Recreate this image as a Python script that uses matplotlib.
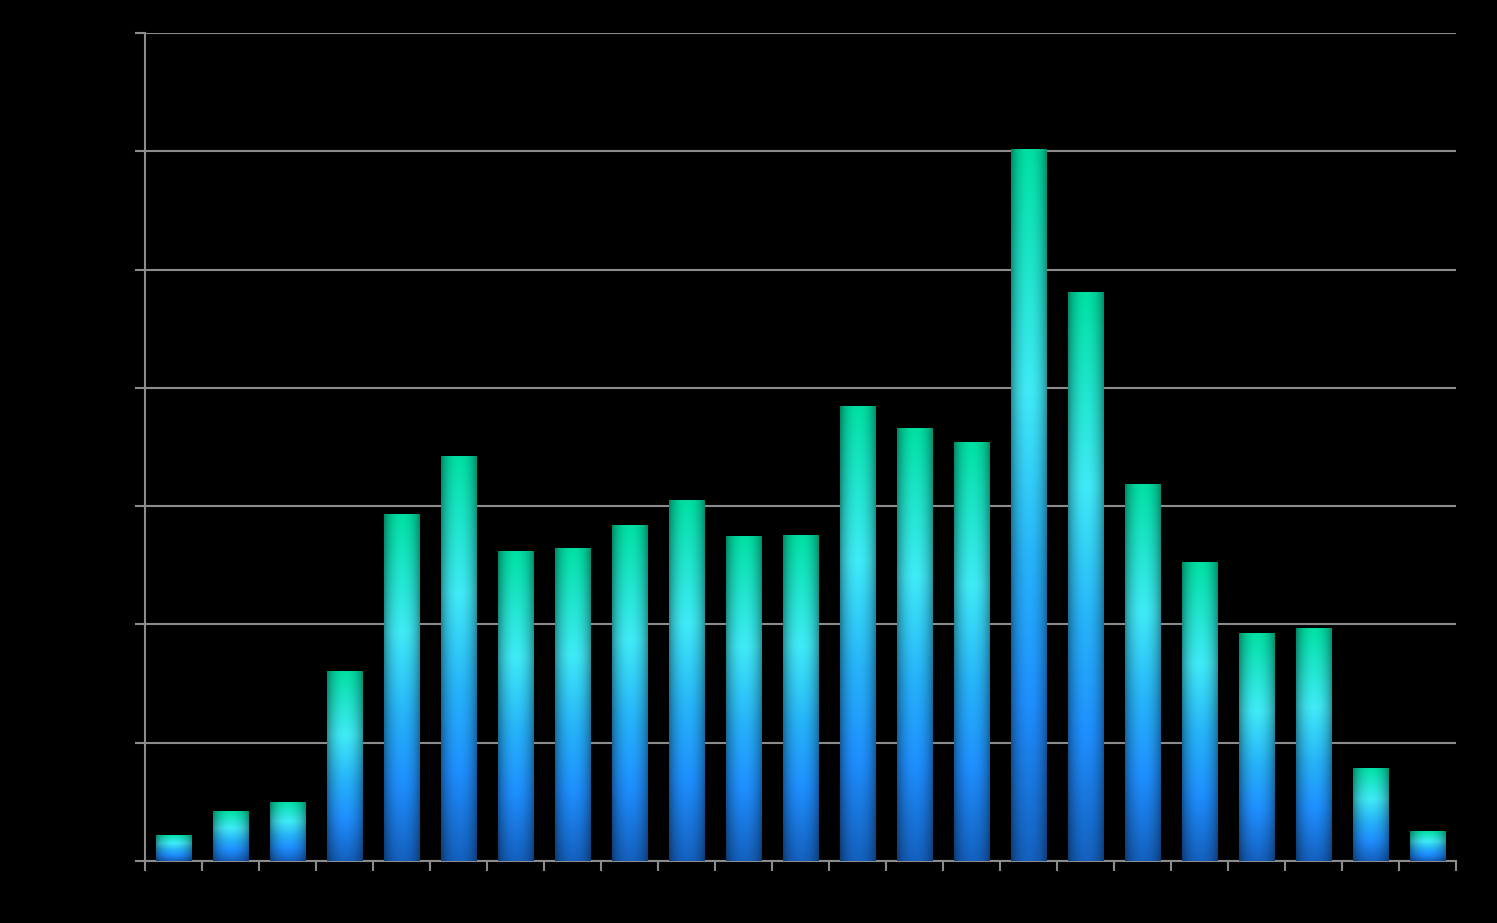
import numpy as np
import matplotlib
matplotlib.use("Agg")
import matplotlib.pyplot as plt
from matplotlib.colors import LinearSegmentedColormap

categories = [str(i) for i in range(1, 24)]
values = [0.22, 0.42, 0.50, 1.61, 2.93, 3.42, 2.62, 2.65, 2.84, 3.05, 2.75, 2.76,
          3.85, 3.66, 3.54, 6.02, 4.81, 3.19, 2.53, 1.93, 1.97, 0.79, 0.25]

fig = plt.figure(figsize=(14.97, 9.23), dpi=100, facecolor="black")
ax = fig.add_axes([145/1497, 62/923, (1456-145)/1497, (861-33)/923])
ax.set_facecolor("black")

n = len(categories)
x = np.arange(n)
width = 0.63
bars = ax.bar(x, values, width=width, color="none", edgecolor="none", zorder=3)

cmap = LinearSegmentedColormap.from_list("g", [
    (0.0, (0.08, 0.38, 0.75)),
    (0.22, (0.12, 0.56, 1.0)),
    (0.42, (0.15, 0.70, 0.98)),
    (0.66, (0.25, 0.92, 0.97)),
    (1.0, (0.0, 0.88, 0.64)),
])
ny, nx = 200, 60
vy = np.linspace(0, 1, ny)[:, None]
base = cmap(np.repeat(vy, nx, axis=1))[..., :3]
hx = np.linspace(0, 1, nx)
shade = 0.5 + 0.5 * np.sin(np.pi * np.clip(hx * 0.95 + 0.02, 0, 1)) ** 0.6
img = np.clip(base * shade[None, :, None], 0, 1)

for b in bars:
    x0 = b.get_x()
    h = b.get_height()
    im = ax.imshow(img, extent=(x0, x0 + width, 0, h), origin="lower",
                   aspect="auto", zorder=3, interpolation="bilinear")
    im.set_clip_path(b)

ax.set_xlim(-0.5, n - 0.5)
ax.set_ylim(0, 7)
ax.set_yticks(np.arange(0, 8, 1))
ax.set_xticks(np.arange(-0.5, n, 1))
ax.yaxis.grid(True, color="#8c8c8c", linewidth=1.5, zorder=1)
ax.set_axisbelow(True)
ax.tick_params(axis="both", colors="#8c8c8c", length=7, width=1.5,
               labelcolor="black", labelleft=False, labelbottom=False)
for s in ["top", "right"]:
    ax.spines[s].set_visible(False)
for s in ["left", "bottom"]:
    ax.spines[s].set_color("#8c8c8c")
    ax.spines[s].set_linewidth(1.5)

fig.savefig("out.png", dpi=100, facecolor="black")
